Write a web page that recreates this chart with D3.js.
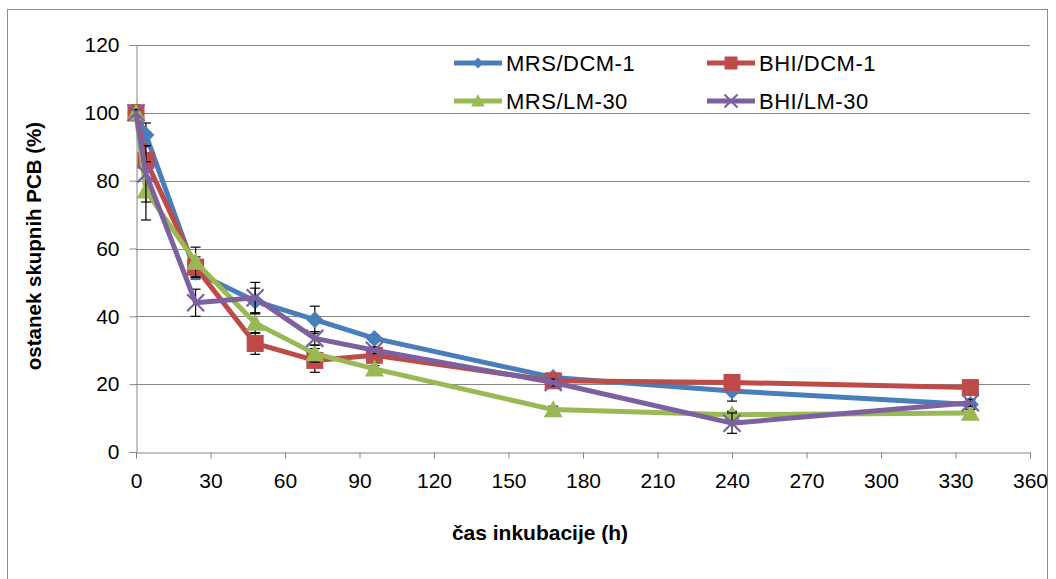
<!DOCTYPE html>
<html><head><meta charset="utf-8">
<script src="https://cdn.jsdelivr.net/npm/d3@7"></script>
<style>
body{margin:0;background:#fff;}
text{font-family:"Liberation Sans",Arial,sans-serif;fill:#000;}
</style></head><body>
<svg id="chart" width="1056" height="579"></svg>
<script>
// ---- data ----
const hours = [0, 4, 24, 48, 72, 96, 168, 240, 336];
const seriesNames = ["MRS/DCM-1", "BHI/DCM-1", "MRS/LM-30", "BHI/LM-30"];
const mrsDcm = [100, 93.5, 53, 44.5, 39, 33.5, 22, 18, 14];
const bhiDcm = [100, 86, 54.5, 32, 27, 28.5, 21, 20.5, 19];
const mrsLm = [100, 77, 56, 38, 29, 24.5, 12.5, 11, 11.5];
const bhiLm = [100, 82, 44, 45.5, 33.5, 30, 20.5, 8.5, 14.5];
const mrsDcmErr = [1.5, 3.5, 2, 3.8, 4, 1, 1, 3, 1];
const bhiDcmErr = [2.3, 2, 3, 3.2, 3.5, 1, 1, 1, 1];
const mrsLmErr = [1, 8.6, 4.4, 3, 2.5, 1, 1, 1, 1];
const bhiLmErr = [1, 8.3, 4, 4.5, 2, 1, 1, 3, 1];
const xTicks = [0, 30, 60, 90, 120, 150, 180, 210, 240, 270, 300, 330, 360];
const yTicks = [0, 20, 40, 60, 80, 100, 120];
const xTitle = "čas inkubacije (h)";
const yTitle = "ostanek skupnih PCB (%)";

const values = [mrsDcm, bhiDcm, mrsLm, bhiLm];
const errs = [mrsDcmErr, bhiDcmErr, mrsLmErr, bhiLmErr];
const colors = ["#4A7EBB", "#BE4B48", "#98B954", "#7D60A0"];
const shapes = ["diamond", "square", "triangle", "x"];

const svg = d3.select("#chart");
const L = 136, R = 1030, T = 45, B = 452;
const x = d3.scaleLinear().domain([0, 360]).range([L, R]);
const y = d3.scaleLinear().domain([0, 120]).range([B, T]);
const grey = "#868686";

// outer frame
svg.append("rect").attr("x", 7.5).attr("y", 9.5).attr("width", 1040).attr("height", 580)
  .attr("fill", "none").attr("stroke", "#8c8c8c").attr("stroke-width", 1);

// gridlines
svg.append("g").selectAll("line").data(yTicks.filter(d => d > 0)).join("line")
  .attr("x1", L).attr("x2", R)
  .attr("y1", d => Math.round(y(d)) + 0.5).attr("y2", d => Math.round(y(d)) + 0.5)
  .attr("stroke", grey).attr("stroke-width", 1);

// axes
const yAxis = svg.append("g").attr("transform", `translate(${L + 0.5},0)`)
  .call(d3.axisLeft(y).tickValues(yTicks).tickSize(7).tickPadding(10).tickFormat(d3.format("d")));
const xAxis = svg.append("g").attr("transform", `translate(0,${B + 0.5})`)
  .call(d3.axisBottom(x).tickValues(xTicks).tickSize(6).tickPadding(15).tickFormat(d3.format("d")));
[yAxis, xAxis].forEach(g => {
  g.select(".domain").attr("stroke", grey);
  g.selectAll(".tick line").attr("stroke", grey);
  g.selectAll(".tick text").attr("font-size", 21).attr("font-family", "Liberation Sans, Arial, sans-serif").attr("fill", "#000");
});

// titles
svg.append("text").attr("x", 540).attr("y", 540).attr("text-anchor", "middle")
  .attr("font-size", 21).attr("font-weight", "bold").text(xTitle);
svg.append("text").attr("transform", "translate(41,246) rotate(-90)").attr("text-anchor", "middle")
  .attr("font-size", 20.5).attr("font-weight", "bold").text(yTitle);

function marker(g, shape, color, cx, cy, s) {
  if (shape === "diamond") {
    g.append("path").attr("d", `M${cx},${cy - s}L${cx + s},${cy}L${cx},${cy + s}L${cx - s},${cy}Z`).attr("fill", color);
  } else if (shape === "square") {
    g.append("rect").attr("x", cx - s).attr("y", cy - s).attr("width", 2 * s).attr("height", 2 * s).attr("fill", color);
  } else if (shape === "triangle") {
    g.append("path").attr("d", `M${cx},${cy - s * 1.05}L${cx + s * 1.05},${cy + s * 0.85}L${cx - s * 1.05},${cy + s * 0.85}Z`).attr("fill", color);
  } else {
    g.append("path").attr("d", `M${cx - s},${cy - s}L${cx + s},${cy + s}M${cx - s},${cy + s}L${cx + s},${cy - s}`)
      .attr("stroke", color).attr("stroke-width", 2.2).attr("fill", "none");
  }
}

const markerSize = [8.5, 8.5, 9, 8.5];
const line = d3.line().x(d => x(d[0])).y(d => y(d[1]));
values.forEach((vals, i) => {
  const g = svg.append("g");
  const pts = hours.map((h, j) => [h, vals[j]]);
  // error bars
  const eg = g.append("g").attr("stroke", "#000").attr("stroke-width", 1.2);
  pts.forEach((p, j) => {
    const e = errs[i][j];
    const cx = x(p[0]);
    eg.append("line").attr("x1", cx).attr("x2", cx).attr("y1", y(p[1] - e)).attr("y2", y(p[1] + e));
    [p[1] - e, p[1] + e].forEach(v => eg.append("line").attr("x1", cx - 5).attr("x2", cx + 5).attr("y1", y(v)).attr("y2", y(v)));
  });
  g.append("path").datum(pts).attr("d", line).attr("fill", "none")
    .attr("stroke", colors[i]).attr("stroke-width", 5).attr("stroke-linejoin", "round");
  pts.forEach(p => marker(g, shapes[i], colors[i], x(p[0]), y(p[1]), markerSize[i]));
});

// legend
const legPos = [[454, 63], [707, 63], [454, 101], [707, 101]];
seriesNames.forEach((name, i) => {
  const [lx, ly] = legPos[i];
  const g = svg.append("g");
  g.append("line").attr("x1", lx).attr("x2", lx + 48).attr("y1", ly).attr("y2", ly)
    .attr("stroke", colors[i]).attr("stroke-width", 5);
  marker(g, shapes[i], colors[i], lx + 24, ly, i === 0 ? 5.5 : 6.5);
  g.append("text").attr("x", lx + 52).attr("y", ly).attr("dy", "0.35em")
    .attr("font-size", 22).attr("letter-spacing", 0.5).text(name);
});
</script>
</body></html>
